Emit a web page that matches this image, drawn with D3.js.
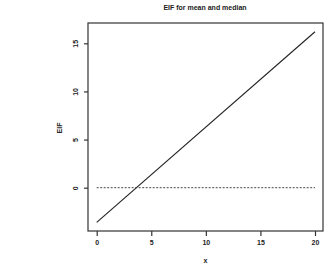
<!DOCTYPE html>
<html>
<head>
<meta charset="utf-8">
<script src="https://cdn.jsdelivr.net/npm/d3@7"></script>
<style>
  body { margin: 0; background: #fff; }
  text { font-family: "Liberation Sans", Arial, sans-serif; font-weight: bold; fill: #222; }
</style>
</head>
<body>
<script>
// data
var xTicks = [0, 5, 10, 15, 20];
var yTicks = [0, 5, 10, 15];
var meanX = [0, 20];
var meanY = [-3.6, 16.2];
var medianX = [0, 20];
var medianY = [0, 0];

var svgWidth = 329;
var svgHeight = 269;

var box = { left: 88, right: 323, top: 23, bottom: 231 };

var svg = d3.select("body")
  .append("svg")
  .attr("width", svgWidth)
  .attr("height", svgHeight);

var x = d3.scaleLinear().domain([0, 20]).range([96.7, 315]);
var y = d3.scaleLinear().domain([0, 15]).range([187.7, 43.3]);

// plot box
svg.append("rect")
  .attr("x", box.left)
  .attr("y", box.top)
  .attr("width", box.right - box.left)
  .attr("height", box.bottom - box.top)
  .attr("fill", "none")
  .attr("stroke", "#333")
  .attr("stroke-width", 1.2);

// x axis
var xAxis = svg.append("g")
  .attr("transform", `translate(0, ${box.bottom})`)
  .call(d3.axisBottom(x).tickValues(xTicks).tickSize(5).tickPadding(4));
xAxis.select(".domain").remove();
xAxis.selectAll("line").attr("stroke", "#333").attr("stroke-width", 1.2);
xAxis.selectAll("text").attr("font-size", 7).attr("fill", "#222");

// y axis, labels rotated like R
var yAxis = svg.append("g")
  .attr("transform", `translate(${box.left}, 0)`)
  .call(d3.axisLeft(y).tickValues(yTicks).tickSize(4));
yAxis.select(".domain").remove();
yAxis.selectAll("line").attr("stroke", "#333").attr("stroke-width", 1.2);
yAxis.selectAll("text")
  .attr("font-size", 7)
  .attr("fill", "#222")
  .attr("x", 0)
  .attr("y", 0)
  .attr("dy", null)
  .attr("text-anchor", "middle")
  .attr("dominant-baseline", "middle")
  .attr("transform", "translate(-12, 0) rotate(-90)");

// lines
var line = d3.line().x(d => x(d[0])).y(d => y(d[1]));

svg.append("path")
  .datum(meanX.map((v, i) => [v, meanY[i]]))
  .attr("d", line)
  .attr("fill", "none")
  .attr("stroke", "#222")
  .attr("stroke-width", 1.1);

svg.append("path")
  .datum(medianX.map((v, i) => [v, medianY[i]]))
  .attr("d", line)
  .attr("fill", "none")
  .attr("stroke", "#333")
  .attr("stroke-width", 0.9)
  .attr("stroke-dasharray", "2,1.5");

// titles
svg.append("text")
  .attr("x", 205)
  .attr("y", 10)
  .attr("text-anchor", "middle")
  .attr("font-size", 7)
  .text("EIF for mean and median");

svg.append("text")
  .attr("x", 205.5)
  .attr("y", 263)
  .attr("text-anchor", "middle")
  .attr("font-size", 7)
  .text("x");

svg.append("text")
  .attr("transform", "translate(62, 128) rotate(-90)")
  .attr("text-anchor", "middle")
  .attr("font-size", 7)
  .text("EIF");
</script>
</body>
</html>
